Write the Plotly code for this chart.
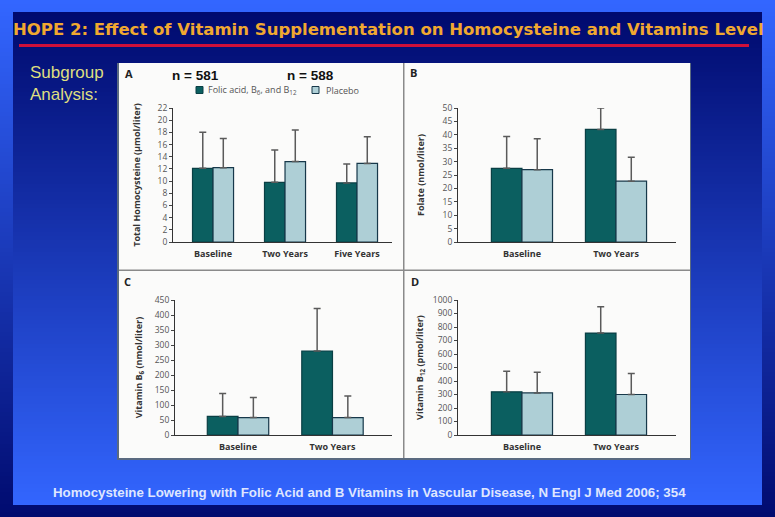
import plotly.graph_objects as go

W, H = 775, 517

CATS_A = ["Baseline", "Two Years", "Five Years"]
CATS_2 = ["Baseline", "Two Years"]

A_TREAT = [12.1, 9.8, 9.7]
A_PLACEBO = [12.2, 13.2, 12.9]
A_TREAT_UP = [18.0, 15.1, 12.8]
A_PLACEBO_UP = [17.0, 18.4, 17.3]

B_TREAT = [27.5, 42.0]
B_PLACEBO = [27.0, 22.7]
B_TREAT_UP = [39.4, 50.0]
B_PLACEBO_UP = [38.5, 31.6]

C_TREAT = [62, 280]
C_PLACEBO = [58, 58]
C_TREAT_UP = [138, 422]
C_PLACEBO_UP = [125, 130]

D_TREAT = [320, 755]
D_PLACEBO = [312, 300]
D_TREAT_UP = [473, 950]
D_PLACEBO_UP = [465, 455]

TITLE = "HOPE 2: Effect of Vitamin Supplementation on Homocysteine and Vitamins Level"
FOOTER = "Homocysteine Lowering with Folic Acid and B Vitamins in Vascular Disease, N Engl J Med 2006; 354"
SERIES = ["Folic acid, B<sub>6</sub>, and B<sub>12</sub>", "Placebo"]

DARK, LIGHT = "#0b5f60", "#aecfd6"
NAVY, BLUE = (0, 10, 110), (51, 102, 255)


def px(x):
    return x / W


def py(y):
    return 1 - y / H


def mix(t, a, b):
    return "rgb(%d,%d,%d)" % tuple(round(a[i] + (b[i] - a[i]) * t) for i in range(3))


def rect(x0, y0, x1, y1, fill, line=None, width=0, layer="below"):
    return dict(type="rect", xref="paper", yref="paper", x0=px(x0), x1=px(x1),
                y0=py(y1), y1=py(y0), fillcolor=fill, layer=layer,
                line=dict(color=line or fill, width=width))


shapes = []
STEP = 4
for y in range(0, H, STEP):
    shapes.append(rect(0, y, W, y + STEP, mix(y / H, BLUE, NAVY)))
for y in range(12, 505, STEP):
    shapes.append(rect(13, y, 762, min(y + STEP, 505), mix((y - 12) / 493, NAVY, BLUE)))
shapes.append(rect(19, 44, 749, 47, "#d0103a"))
shapes.append(rect(117, 63, 691, 460, "#5a6a80"))
shapes.append(rect(119, 63, 690, 458, "#fbfbfa"))
for seg in [(403, 63, 404.5, 458), (119, 269.5, 690, 271)]:
    shapes.append(rect(*seg, "#8a8a8a"))
shapes.append(rect(196, 86.5, 203, 93.5, DARK, "#0a3f44", 1))
shapes.append(rect(312, 86.5, 319, 93.5, LIGHT, "#17384a", 1))

fig = go.Figure()

panels = [
    ("", CATS_A, A_TREAT, A_PLACEBO, A_TREAT_UP, A_PLACEBO_UP, (173, 392), (242, 108), (-0.556, 2.486), 0.285, 22, 2,
     "Total Homocysteine (µmol/liter)", 15),
    ("2", CATS_2, B_TREAT, B_PLACEBO, B_TREAT_UP, B_PLACEBO_UP, (458, 676), (242, 108), (-0.68, 1.638), 0.325, 50, 5,
     "Folate (nmol/liter)", 16),
    ("3", CATS_2, C_TREAT, C_PLACEBO, C_TREAT_UP, C_PLACEBO_UP, (175, 392), (435, 300), (-0.667, 1.63), 0.325, 450, 50,
     "Vitamin B<sub>6</sub> (nmol/liter)", 10),
    ("4", CATS_2, D_TREAT, D_PLACEBO, D_TREAT_UP, D_PLACEBO_UP, (458, 676), (435, 300), (-0.68, 1.638), 0.325, 1000, 100,
     "Vitamin B<sub>12</sub> (pmol/liter)", 7),
]

layout_axes = {}
for i, (sfx, cats, tr, pl, tr_up, pl_up, xd, yd, xr, bw, ymax, dt, ytitle, stand) in enumerate(panels):
    for name, vals, ups, col, lc, off in (
        (SERIES[0], tr, tr_up, DARK, "#0a3f44", -bw),
        (SERIES[1], pl, pl_up, LIGHT, "#17384a", 0),
    ):
        fig.add_trace(go.Bar(
            x=cats, y=vals, name=name, xaxis="x" + sfx, yaxis="y" + sfx,
            width=bw, offset=off, showlegend=False,
            marker=dict(color=col, line=dict(color=lc, width=1.2)),
            error_y=dict(type="data", symmetric=False,
                         array=[u - v for u, v in zip(ups, vals)],
                         arrayminus=[0] * len(vals),
                         color="#5a5a5a", thickness=1.5, width=3.5),
        ))
    layout_axes["xaxis" + sfx] = dict(
        domain=[px(xd[0]), px(xd[1])], range=list(xr), anchor="y" + sfx, type="category",
        categoryorder="array", categoryarray=cats,
        showline=True, linecolor="#333", linewidth=1, ticks="outside", tickcolor="rgba(0,0,0,0)",
        showgrid=False, ticklen=3, automargin=False,
        tickfont=dict(family="Open Sans", size=9, color="#333", weight="bold"),
    )
    layout_axes["yaxis" + sfx] = dict(
        domain=[py(yd[0]), py(yd[1])], range=[0, ymax], anchor="x" + sfx, dtick=dt,
        showline=True, linecolor="#333", linewidth=1, ticks="outside", ticklen=3, tickwidth=1,
        tickcolor="#444", showgrid=False, zeroline=False,
        tickfont=dict(family="Open Sans", size=8.5, color="#555"),
        title=dict(text=ytitle, standoff=stand,
                   font=dict(family="Open Sans", size=9, color="#333", weight="bold")),
        automargin=False,
    )


def note(x, y, text, size, color, family="Liberation Sans", weight="normal", anchor="left"):
    return dict(xref="paper", yref="paper", x=px(x), y=py(y), text=text, showarrow=False,
                xanchor=anchor, yanchor="middle", align="left",
                font=dict(family=family, size=size, color=color, weight=weight))


annotations = [
    note(11, 30, TITLE, 16.5, "#f0a830", family="DejaVu Sans", weight="bold"),
    note(28, 73, "Subgroup", 17, "#dede80"),
    note(28, 94, "Analysis:", 17, "#dede80"),
    note(51, 492, FOOTER, 13.3, "#dfe6ff", weight="bold"),
    note(170, 75, "n = 581", 13.5, "#111", weight="bold"),
    note(285, 75, "n = 588", 13.5, "#111", weight="bold"),
    note(206, 90, SERIES[0], 9, "#555", family="Open Sans"),
    note(324, 90, SERIES[1], 9, "#555", family="Open Sans"),
    note(129, 74, "A", 11, "#222", family="Open Sans", weight="bold", anchor="center"),
    note(413, 73, "B", 11, "#222", family="Open Sans", weight="bold", anchor="center"),
    note(127, 281, "C", 11, "#222", family="Open Sans", weight="bold", anchor="center"),
    note(415, 281, "D", 11, "#222", family="Open Sans", weight="bold", anchor="center"),
]

fig.update_layout(
    width=W, height=H, margin=dict(l=0, r=0, t=0, b=0),
    paper_bgcolor="#1c2f9a", plot_bgcolor="rgba(0,0,0,0)",
    barmode="overlay", showlegend=False,
    shapes=shapes, annotations=annotations,
    **layout_axes,
)

fig.write_html("out.html", config={"displayModeBar": False},
               post_script="document.body.style.margin='0';")
